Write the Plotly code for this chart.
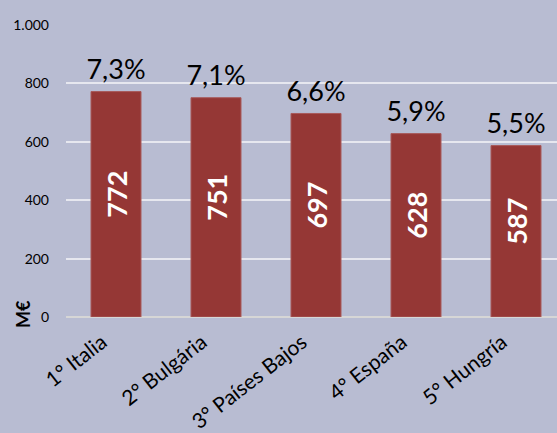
import plotly.graph_objects as go

categories = ["1° Italia", "2° Bulgária", "3° Países Bajos", "4° España", "5° Hungría"]
values = [772, 751, 697, 628, 587]
shares = ["7,3%", "7,1%", "6,6%", "5,9%", "5,5%"]
y_ticks = [0, 200, 400, 600, 800, 1000]

BG = "#b8bcd2"
BAR = "#953735"
FONT = "Lato"

fig = go.Figure()
fig.add_trace(go.Bar(
    x=categories, y=values, width=0.5,
    marker=dict(color=BAR, line=dict(color="#a85a5a", width=1)),
    text=["\u2003" + str(v) for v in values], textposition="inside",
    insidetextanchor="middle", textangle=-90,
    textfont=dict(family=FONT, size=27, color="white", weight="bold"),
    hoverinfo="skip", cliponaxis=False,
))
fig.add_trace(go.Scatter(
    x=categories, y=values, mode="markers+text", text=shares,
    textposition="top center",
    marker=dict(size=8, color="rgba(0,0,0,0)"),
    textfont=dict(family=FONT, size=27, color="black"),
    hoverinfo="skip", cliponaxis=False,
))

fig.add_annotation(
    text="<b>M€</b>", textangle=-90, xref="paper", yref="y",
    x=0, y=0, xshift=-43, yshift=3, showarrow=False, xanchor="center", yanchor="middle",
    font=dict(family=FONT, size=18, color="black"),
)

fig.update_layout(
    width=557, height=433,
    margin=dict(l=66, r=0, t=25, b=116, autoexpand=False),
    paper_bgcolor=BG, plot_bgcolor=BG,
    showlegend=False,
    separators=",.",
    font=dict(family=FONT, color="black"),
    bargap=0.5,
)
fig.update_xaxes(
    range=[-0.5, 4.41], tickangle=-38, showgrid=False,
    tickfont=dict(family=FONT, size=21, color="black"),
    ticks="", showline=False, automargin=False,
    ticklabelstandoff=8, ticklabelshift=-14,
)
fig.update_yaxes(
    range=[0, 1000], tickvals=y_ticks, tickformat=",d",
    showgrid=True, gridcolor="#e6e7ef", gridwidth=1.5,
    zeroline=True, zerolinecolor="#d6d6d6", zerolinewidth=2,
    tickfont=dict(family=FONT, size=14, color="black"),
    ticks="", ticklabelstandoff=16, automargin=False,
)

fig.write_html(
    "out.html",
    config={"displayModeBar": False},
    post_script="document.body.style.margin='0';document.body.style.background='%s';" % BG,
)
